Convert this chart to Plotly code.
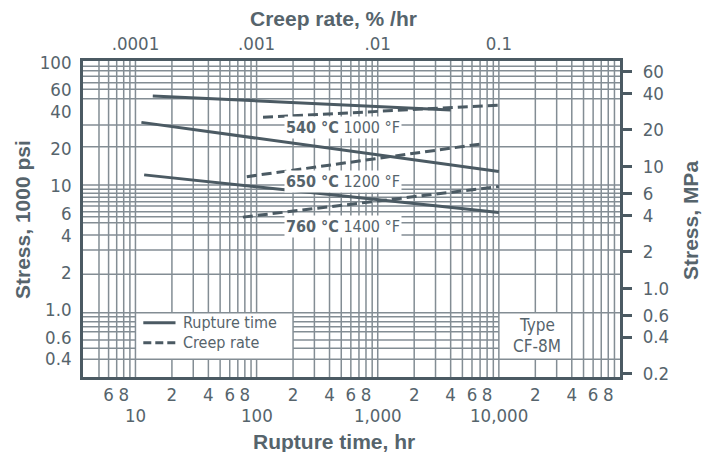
import math
import plotly.graph_objects as go

# ---------------- data ----------------
# Rupture-time curves: x = rupture time (hr), y = stress (1000 psi)
rupture_540_hr = [13.9, 4000]
rupture_540_ksi = [53.5, 41.2]
rupture_650_hr = [11.2, 10000]
rupture_650_ksi = [32.7, 13.1]
rupture_760_hr = [11.8, 10000]
rupture_760_ksi = [12.3, 6.1]

# Creep-rate curves: x = creep rate (% / hr), y = stress (1000 psi)
creep_540_rate = [0.00113, 0.1]
creep_540_ksi = [36.0, 45.0]
creep_650_rate = [0.00083, 0.072]
creep_650_ksi = [11.9, 21.9]
creep_760_rate = [0.00077, 0.1]
creep_760_ksi = [5.6, 9.9]

temp_c_labels = ["540 °C", "650 °C", "760 °C"]
temp_f_labels = ["1000 °F", "1200 °F", "1400 °F"]

# tick labels
left_tick_vals = [100, 60, 40, 20, 10, 6, 4, 2, 1, 0.6, 0.4]
left_tick_text = ["100", "60", "40", "20", "10", "6", "4", "2", "1.0", "0.6", "0.4"]
right_tick_vals = [60, 40, 20, 10, 6, 4, 2, 1, 0.6, 0.4, 0.2]
right_tick_text = ["60", "40", "20", "10", "6", "4", "2", "1.0", "0.6", "0.4", "0.2"]
bottom_first_minor = [6, 8]
bottom_minor_digits = [2, 4, 6, 8]
bottom_decades = [10, 100, 1000, 10000]
bottom_major_text = ["10", "100", "1,000", "10,000"]
top_tick_vals = [0.0001, 0.001, 0.01, 0.1]
top_tick_text = [".0001", ".001", ".01", "0.1"]

# chart-paper grid (values in axis units)
vgrid_first = [5, 6, 7, 8, 9]
vgrid_digits = [1, 2, 3, 4, 5, 6, 7, 8, 9]
hgrid_full = [93.0, 85.7, 77.3, 68.5, 60.6, 50.8, 31.2, 20.8,
              10.2, 9.40, 8.73, 8.11, 7.47, 6.89, 6.20, 5.65, 5.05,
              4.02, 3.03, 1.93, 0.944, 0.397]
hgrid_band = [0.877, 0.798, 0.727, 0.663, 0.568, 0.486]
band_low, band_high = 0.397, 0.944
legend_gap = (10, 200)      # hr range kept clear for legend
type_gap = (10000, 40000)   # hr range kept clear for "Type" note

# ---------------- style ----------------
X_RANGE = [0.567, 5.0]
Y_RANGE = [-0.545, 2.011]
Y2_RANGE = [-0.726, 1.866]
CREEP_SHIFT = 5  # creep rate (%/hr) = rupture hr * 1e-5 on this chart

DARK = "#4b5a63"
TEXT = "#56646c"
GRID = "#838d94"
NARROW = "DejaVu Sans Condensed, Liberation Sans, sans-serif"
BOLD = "Liberation Sans, Arial, sans-serif"

xmin, xmax = 10 ** X_RANGE[0], 10 ** X_RANGE[1]
ymin, ymax = 10 ** Y_RANGE[0], 10 ** Y_RANGE[1]

fig = go.Figure()

# ---- grid as traces ----
vx, vy = [], []
vgrid = list(vgrid_first) + [d * 10 ** k for k in range(1, 5) for d in vgrid_digits]
for v in vgrid:
    hidden = (legend_gap[0] < v < legend_gap[1]) or (type_gap[0] < v < type_gap[1])
    if hidden:
        vx += [v, v, None, v, v, None]
        vy += [ymin, band_low, None, band_high, ymax, None]
    else:
        vx += [v, v, None]
        vy += [ymin, ymax, None]
fig.add_trace(go.Scatter(x=vx, y=vy, mode="lines", line=dict(color=GRID, width=1.5),
                         hoverinfo="skip", showlegend=False))
hx, hy = [], []
for h in hgrid_full:
    hx += [xmin, xmax, None]
    hy += [h, h, None]
for h in hgrid_band:
    hx += [xmin, legend_gap[0], None, legend_gap[1], type_gap[0], None]
    hy += [h, h, None, h, h, None]
fig.add_trace(go.Scatter(x=hx, y=hy, mode="lines", line=dict(color=GRID, width=1.5),
                         hoverinfo="skip", showlegend=False))

# empty trace so that the right-hand MPa axis is drawn
fig.add_trace(go.Scatter(x=[], y=[], xaxis="x", yaxis="y2", mode="lines",
                         hoverinfo="skip", showlegend=False))

# ---- data lines ----
for xs, ys in [(rupture_540_hr, rupture_540_ksi), (rupture_650_hr, rupture_650_ksi),
               (rupture_760_hr, rupture_760_ksi)]:
    fig.add_trace(go.Scatter(x=xs, y=ys, mode="lines", line=dict(color=DARK, width=3),
                             name="Rupture time", showlegend=False))
for xs, ys in [(creep_540_rate, creep_540_ksi), (creep_650_rate, creep_650_ksi),
               (creep_760_rate, creep_760_ksi)]:
    fig.add_trace(go.Scatter(x=xs, y=ys, mode="lines", xaxis="x2", yaxis="y",
                             line=dict(color=DARK, width=3, dash="10px,5px"),
                             name="Creep rate", showlegend=False))

# ---- bottom tick labels ----
bottom_minor_vals = list(bottom_first_minor) + [d * 10 ** k for k in range(1, 5) for d in bottom_minor_digits]
bottom_minor_text = [str(int(round(v / 10 ** math.floor(math.log10(v))))) for v in bottom_minor_vals]

W, H = 711, 452
ML, MR, MT, MB = 83, 91, 61, 75
PW, PH = W - ML - MR, H - MT - MB


def px(x):
    return (x - ML) / PW


def py(y):
    return (H - MB - y) / PH


TICK_FS = 18.5
LABEL_FS = 16
annotations = []
for v, t in zip(bottom_decades, bottom_major_text):
    annotations.append(dict(x=math.log10(v), xref="x", y=py(415), yref="paper", text=t,
                            showarrow=False, xanchor="center", yanchor="middle",
                            font=dict(family=NARROW, size=TICK_FS, color=TEXT)))

# axis titles
title_font = dict(family=BOLD, size=21, color=TEXT)
annotations += [
    dict(x=px(333), y=py(19), xref="paper", yref="paper", text="<b>Creep rate, % /hr</b>",
         showarrow=False, xanchor="center", yanchor="middle", font=title_font),
    dict(x=px(334), y=py(441), xref="paper", yref="paper", text="<b>Rupture time, hr</b>",
         showarrow=False, xanchor="center", yanchor="middle", font=title_font),
    dict(x=px(22), y=py(220), xref="paper", yref="paper", text="<b>Stress, 1000 psi</b>",
         textangle=-90, showarrow=False, xanchor="center", yanchor="middle", font=title_font),
    dict(x=px(690), y=py(221), xref="paper", yref="paper", text="<b>Stress, MPa</b>",
         textangle=-90, showarrow=False, xanchor="center", yanchor="middle", font=title_font),
]

# temperature labels
for (c, f), ylab in zip(zip(temp_c_labels, temp_f_labels), [127.7, 181, 226]):
    annotations.append(dict(x=px(284), y=py(ylab), xref="paper", yref="paper",
                            text=f"<b>{c}</b> {f}", showarrow=False, xanchor="left",
                            yanchor="middle", bgcolor="white", borderpad=1,
                            font=dict(family=NARROW, size=LABEL_FS, color=TEXT)))

# legend texts and type note
annotations += [
    dict(x=px(181), y=py(322.7), xref="paper", yref="paper", text="Rupture time",
         showarrow=False, xanchor="left", yanchor="middle",
         font=dict(family=NARROW, size=LABEL_FS, color=TEXT)),
    dict(x=px(181), y=py(342.7), xref="paper", yref="paper", text="Creep rate",
         showarrow=False, xanchor="left", yanchor="middle",
         font=dict(family=NARROW, size=LABEL_FS, color=TEXT)),
    dict(x=px(536.5), y=py(325), xref="paper", yref="paper", text="Type",
         showarrow=False, xanchor="center", yanchor="middle",
         font=dict(family=NARROW, size=17, color=TEXT)),
    dict(x=px(536.5), y=py(346), xref="paper", yref="paper", text="CF-8M",
         showarrow=False, xanchor="center", yanchor="middle",
         font=dict(family=NARROW, size=17, color=TEXT)),
]

shapes = [
    dict(type="line", xref="paper", yref="paper", x0=px(143.3), x1=px(175.5),
         y0=py(322.7), y1=py(322.7), line=dict(color=DARK, width=3)),
    dict(type="line", xref="paper", yref="paper", x0=px(143.3), x1=px(176.5),
         y0=py(342.7), y1=py(342.7), line=dict(color=DARK, width=3, dash="8px,4px")),
]

tickfont = dict(family=NARROW, size=TICK_FS, color=TEXT)

fig.update_layout(
    width=W, height=H,
    margin=dict(l=ML, r=MR, t=MT, b=MB, pad=0),
    paper_bgcolor="white", plot_bgcolor="white",
    showlegend=False,
    xaxis=dict(type="log", range=X_RANGE, tickmode="array", tickvals=bottom_minor_vals,
               ticktext=bottom_minor_text, ticks="", showgrid=False, zeroline=False,
               showline=True, mirror=True, linecolor=DARK, linewidth=2.5,
               tickfont=tickfont, ticklabelstandoff=-1),
    xaxis2=dict(type="log", range=[X_RANGE[0] - CREEP_SHIFT, X_RANGE[1] - CREEP_SHIFT],
                overlaying="x", side="top", tickmode="array", tickvals=top_tick_vals,
                ticktext=top_tick_text, ticks="", showgrid=False, zeroline=False,
                showline=False, tickfont=tickfont, ticklabelstandoff=6),
    yaxis=dict(type="log", range=Y_RANGE, tickmode="array", tickvals=left_tick_vals,
               ticktext=left_tick_text, ticks="", showgrid=False, zeroline=False,
               showline=True, mirror=True, linecolor=DARK, linewidth=2.5,
               tickfont=tickfont, ticklabelstandoff=5),
    yaxis2=dict(type="log", range=Y2_RANGE, overlaying="y", side="right", anchor="x",
                tickmode="array", tickvals=right_tick_vals, ticktext=right_tick_text,
                ticks="outside", ticklen=11, tickwidth=2.5, tickcolor=DARK,
                showgrid=False, zeroline=False, showline=False, tickfont=tickfont,
                ticklabelstandoff=7),
    annotations=annotations,
    shapes=shapes,
)

fig.write_html("out.html")
